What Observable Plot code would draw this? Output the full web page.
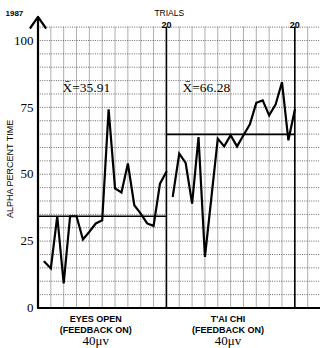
<!DOCTYPE html>
<html>
<head>
<meta charset="utf-8">
<script src="https://cdn.jsdelivr.net/npm/d3@7"></script>
<script src="https://cdn.jsdelivr.net/npm/@observablehq/plot@0.6"></script>
<style>
  html, body { margin: 0; padding: 0; background: white; }
</style>
</head>
<body>
<div id="chart"></div>
<script>
// ---- data ----
const trials = [1, 2, 3, 4, 5, 6, 7, 8, 9, 10, 11, 12, 13, 14, 15, 16, 17, 18, 19, 20];
const eyesOpen = [17.3, 14.8, 34.3, 9.2, 34.3, 34.3, 25.6, 28.5, 31.6, 32.8, 74.3, 44.7, 43.2, 54, 38.4, 35.3, 31.6, 30.7, 46.5, 50.9];
const taiChi = [41.8, 57.7, 54.2, 39, 63.9, 19.1, 41.2, 63.3, 60.4, 64.6, 60.4, 64.6, 68.7, 76.7, 77.6, 72, 76, 84.4, 62.7, 74.1];
const conditions = ["EYES OPEN\n(FEEDBACK ON)", "T'AI CHI\n(FEEDBACK ON)"];
const thresholds = ["40\u03bcv", "40\u03bcv"];
const meanLabels = ["X\u0304=35.91", "X\u0304=66.28"];
const meanLevels = [34.3, 64.9];
const yTicks = [0, 25, 50, 75, 100];
const trialEndLabels = ["20", "20"];
const yearLabel = "1987";
const xTitle = "TRIALS";
const yTitle = "ALPHA PERCENT TIME";

// ---- tables built from the arrays ----
const rows = [
  ...trials.map((t, i) => ({x: t, y: eyesOpen[i], cond: 0})),
  ...trials.map((t, i) => ({x: 20 + t, y: taiChi[i], cond: 1}))
];
const means = meanLevels.map((m, i) => ({x1: i * 20, x2: (i + 1) * 20, y: m, label: meanLabels[i]}));
const trialEnds = trialEndLabels.map((l, i) => ({x: (i + 1) * 20, label: l}));
const meanLabelX = [3.8, 22.5];
const condX = [9, 29.6];

const serif = "Liberation Serif, Times New Roman, serif";
const sans = "Liberation Sans, Arial, sans-serif";
const narrow = "Liberation Sans Narrow, Liberation Sans, Arial, sans-serif";

const chart = Plot.plot({
  width: 320,
  height: 348,
  marginLeft: 37.5,
  marginRight: 0,
  marginTop: 26.6,
  marginBottom: 40.5,
  x: {domain: [0, 44], axis: null},
  y: {domain: [0, 105], axis: null},
  style: {background: "white", color: "black", fontFamily: sans},
  marks: [
    Plot.ruleX(d3.range(2, 45, 2).filter(d => d % 20 !== 0), {stroke: "#9a9a9a", strokeWidth: 0.8}),
    Plot.ruleY(d3.range(5, 106, 5), {stroke: "#444", strokeWidth: 0.8, strokeDasharray: "1,1.3"}),
    Plot.ruleX(trialEnds, {x: "x", stroke: "black", strokeWidth: 1.6}),
    Plot.text(trialEnds, {x: "x", y: 105, dy: 0.5, lineAnchor: "bottom", text: "label", fontWeight: "bold", fontSize: 9}),
    Plot.ruleY(means, {x1: "x1", x2: "x2", y: "y", stroke: "black", strokeWidth: 1.7}),
    Plot.line(rows, {x: "x", y: "y", z: "cond", stroke: "black", strokeWidth: 2.2, strokeLinejoin: "miter", strokeMiterlimit: 3}),
    Plot.text(means, {x: meanLabelX, y: 82.5, text: "label", textAnchor: "start", fontFamily: serif, fontSize: 13.5}),
    Plot.ruleY([0], {stroke: "black", strokeWidth: 2}),
    Plot.arrow([0], {x: 0, y1: 0, y2: 108.8, stroke: "black", strokeWidth: 2.2, headLength: 9, headAngle: 70}),
    Plot.axisY(yTicks, {tickSize: 0, tickPadding: 4.5, fontSize: 13, fontFamily: serif, label: null}),
    Plot.text([yTitle], {x: -4.3, y: 52, rotate: -90, fontSize: 9, fontFamily: sans}),
    Plot.text([xTitle], {frameAnchor: "top", dx: -10, dy: -17, fontSize: 8.5, fontFamily: sans}),
    Plot.text([yearLabel], {frameAnchor: "top-left", dx: -32.5, dy: -16.5, textAnchor: "start", fontSize: 8, fontWeight: "bold", fontFamily: sans}),
    Plot.text(conditions, {x: condX, y: 0, dy: 7, lineAnchor: "top", lineHeight: 1.15, fontSize: 9, fontWeight: "bold", fontFamily: narrow}),
    Plot.text(thresholds, {x: condX, y: 0, dy: 33, lineAnchor: "middle", fontSize: 13, fontFamily: serif})
  ]
});
document.getElementById("chart").appendChild(chart);
</script>
</body>
</html>
